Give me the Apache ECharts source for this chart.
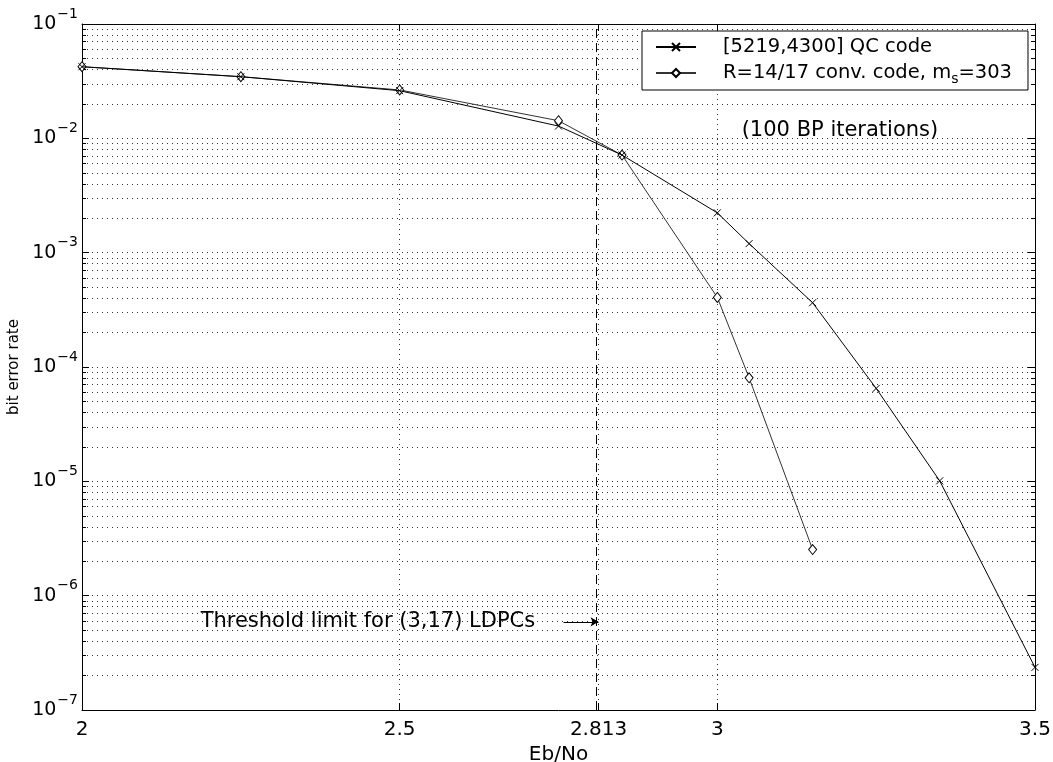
<!DOCTYPE html>
<html>
<head>
<meta charset="utf-8">
<script src="https://cdn.jsdelivr.net/npm/echarts@6/dist/echarts.min.js"></script>
<style>
html, body { margin: 0; padding: 0; background: #fff; }
#chart { width: 1053px; height: 762px; }
</style>
</head>
<body>
<div id="chart"></div>
<script>
// Eb/No values and bit error rates
var ebNoQC = [2, 2.25, 2.5, 2.75, 2.85, 3, 3.05, 3.15, 3.25, 3.35, 3.5];
var berQC = [0.0423, 0.0346, 0.0261, 0.0128, 0.00714, 0.00223, 0.0012, 3.65e-4, 6.5e-5, 1.01e-5, 2.36e-7];
var ebNoConv = [2, 2.25, 2.5, 2.75, 2.85, 3, 3.05, 3.15];
var berConv = [0.0423, 0.0346, 0.0265, 0.01426, 0.00714, 4.06e-4, 8.05e-5, 2.53e-6];
var seriesNames = ['[5219,4300] QC code', 'R=14/17 conv. code, m_s=303'];
var xTicks = [2, 2.5, 2.813, 3, 3.5];
var yMajor = [1e-7, 1e-6, 1e-5, 1e-4, 1e-3, 1e-2, 1e-1];
var thresholdX = 2.813;
var thresholdNote = 'Threshold limit for (3,17) LDPCs';
var thresholdNoteAt = [2.45, 5.9e-7];
var arrowFrom = [2.758, 5.9e-7];
var iterNote = '(100 BP iterations)';
var iterNoteAt = [3.193, 0.0118];

// minor log ticks 2..9 within each decade
var yMinor = [];
for (var d = -7; d < -1; d++) {
    for (var k = 2; k < 10; k++) {
        yMinor.push(+(k * Math.pow(10, d)).toPrecision(3));
    }
}

function pairs(xs, ys) {
    return xs.map(function (x, i) { return [x, ys[i]]; });
}

var FONT = 'DejaVu Sans';
var dotted = { color: '#333', width: 1, type: [1, 4] };

function yAxisDef(pos, ticks, len, withLabel, withGrid) {
    return {
        type: 'log',
        logBase: 10,
        min: 1e-7,
        max: 1e-1,
        position: pos,
        axisLine: { show: len > 5, lineStyle: { color: '#000', width: 1 } },
        axisTick: { show: true, inside: true, length: len, customValues: ticks, lineStyle: { color: '#000' } },
        axisLabel: withLabel ? {
            show: true,
            customValues: yMajor,
            margin: 4,
            formatter: function (v) {
                var e = Math.round(Math.log10(v));
                return '{b|10}{s|\u2212' + Math.abs(e) + '}';
            },
            rich: {
                b: { fontSize: 19, fontFamily: FONT, color: '#000' },
                s: { fontSize: 14, fontFamily: FONT, color: '#000', padding: [0, 0, 20, 1] }
            }
        } : { show: false },
        splitLine: { show: withGrid, lineStyle: dotted },
        minorTick: { show: false },
        name: withLabel ? 'bit error rate' : '',
        nameLocation: 'middle',
        nameGap: 42,
        nameTextStyle: { fontSize: 15, fontFamily: FONT, color: '#000' }
    };
}

var chart = echarts.init(document.getElementById('chart'));
var option = {
    animation: false,
    backgroundColor: '#fff',
    textStyle: { fontFamily: FONT },
    grid: { left: 82, right: 18, top: 24, bottom: 52, containLabel: false, outerBoundsMode: 'none' },
    legend: {
        orient: 'vertical',
        left: 642,
        top: 31,
        padding: [6, 16, 4, 13],
        itemGap: 6,
        itemWidth: 40,
        itemHeight: 10,
        backgroundColor: '#fff',
        borderColor: '#000',
        borderWidth: 1,
        borderRadius: 0,
        data: seriesNames,
        formatter: function (name) {
            return name.replace('m_s', 'm{sub|s}');
        },
        textStyle: {
            fontSize: 19.5,
            fontFamily: FONT,
            color: '#000',
            padding: [0, 0, 0, 22],
            rich: {
                sub: { fontSize: 14, fontFamily: FONT, color: '#000', padding: [12, 0, 0, 0] }
            }
        }
    },
    xAxis: [
        {
            type: 'value',
            min: 2,
            max: 3.5,
            position: 'bottom',
            axisLine: { lineStyle: { color: '#000', width: 1 } },
            axisTick: { show: true, inside: true, length: 7, customValues: xTicks, lineStyle: { color: '#000' } },
            axisLabel: {
                customValues: xTicks,
                margin: 10,
                fontSize: 20,
                fontFamily: FONT,
                color: '#000',
                formatter: function (v) { return String(v); }
            },
            splitLine: { show: true, lineStyle: dotted },
            name: 'Eb/No',
            nameLocation: 'middle',
            nameGap: 28,
            nameTextStyle: { fontSize: 20, fontFamily: FONT, color: '#000' }
        },
        {
            type: 'value',
            min: 2,
            max: 3.5,
            position: 'top',
            axisLine: { lineStyle: { color: '#000', width: 1 } },
            axisTick: { show: true, inside: true, length: 7, customValues: xTicks, lineStyle: { color: '#000' } },
            axisLabel: { show: false },
            splitLine: { show: false }
        }
    ],
    yAxis: [
        yAxisDef('left', yMajor, 7, true, true),
        yAxisDef('left', yMinor, 4, false, true),
        yAxisDef('right', yMajor, 7, false, false),
        yAxisDef('right', yMinor, 4, false, false)
    ],
    series: [
        {
            name: seriesNames[0],
            type: 'line',
            data: pairs(ebNoQC, berQC),
            symbol: 'path://M0,0L10,10M10,0L0,10',
            symbolSize: 7,
            lineStyle: { color: '#000', width: 1 },
            itemStyle: { color: '#000', borderColor: '#000', borderWidth: 1 },
            z: 5,
            markLine: {
                silent: true,
                symbol: 'none',
                label: { show: false },
                lineStyle: { color: '#000', width: 1, type: [9, 5] },
                data: [{ xAxis: thresholdX }]
            },
            markPoint: {
                silent: true,
                symbol: 'circle',
                symbolSize: 0,
                label: { show: true, position: 'inside', fontSize: 21, fontFamily: FONT, color: '#000' },
                data: [
                    { coord: thresholdNoteAt, label: { formatter: thresholdNote } },
                    { coord: iterNoteAt, label: { formatter: iterNote } }
                ]
            }
        },
        {
            name: seriesNames[1],
            type: 'line',
            data: pairs(ebNoConv, berConv),
            symbol: 'diamond',
            symbolSize: [8, 10],
            lineStyle: { color: '#333', width: 1 },
            itemStyle: { color: '#fff', borderColor: '#000', borderWidth: 1 },
            z: 4,
            markLine: {
                silent: true,
                symbol: ['none', 'arrow'],
                symbolSize: [7, 8],
                label: { show: false },
                lineStyle: { color: '#000', width: 1, type: 'solid' },
                data: [[{ coord: arrowFrom }, { coord: [thresholdX, arrowFrom[1]] }]]
            }
        }
    ]
};
chart.setOption(option);
window.addEventListener('resize', function () {
    chart.resize();
});
</script>
</body>
</html>
